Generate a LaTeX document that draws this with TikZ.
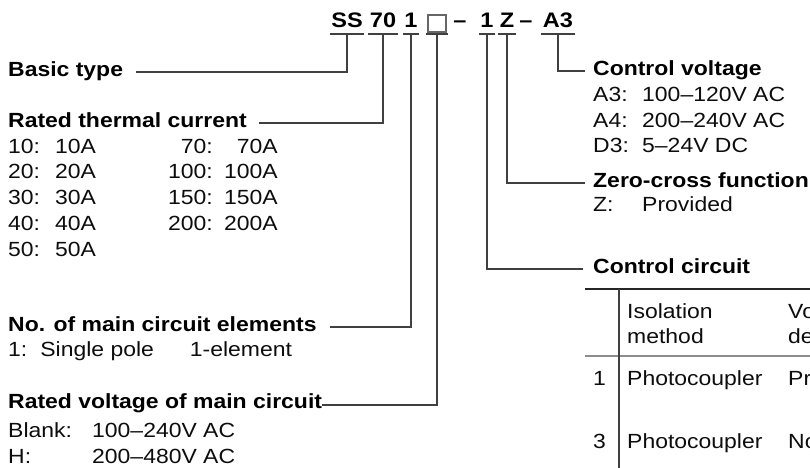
\documentclass[tikz,border=0pt]{standalone}
\usepackage{fontspec}
\setmainfont{Liberation Sans}[FakeStretch=1.12]
\begin{document}
\begin{tikzpicture}%
	[x={(1bp,0bp)},
	y={(0bp,-1bp)},
	lead/.style={color=black!75, line width=1.7bp},
	toprule/.style={color=black!85, line width=2.6bp},
	midrule/.style={color=black!45, line width=1.2bp},
	code/.style={font=\fontsize{21bp}{25bp}\selectfont\bfseries, anchor=base, inner xsep=1.5bp, inner ysep=0pt, text height=15bp, text depth=6bp},
	title/.style={font=\fontsize{20.5bp}{25.75bp}\selectfont\bfseries, anchor=base west, inner sep=0pt, text height=15bp, text depth=5bp},
	item/.style={font=\fontsize{20.5bp}{25.75bp}\selectfont, anchor=base west, inner sep=0pt, text=black!95},
	ritem/.style={item, anchor=base east}]
%
\useasboundingbox (0,0) rectangle (810,468);
\clip (0,0) rectangle (810,468);
%%
%% The type code
%%
\node[code] (ss) at (347,28) {SS};
\node[code] (cur) at (383,28) {70};
\node[code] (elem) at (411,28) {1};
\node[draw=black!60, line width=1.1bp, minimum width=18bp, minimum height=17bp, inner sep=0pt, outer sep=2bp] (volt) at (437,23.5) {};
\node[code] (d1) at (460,28) {--};
\node[code] (ctrl) at (487,28) {1};
\node[code] (zc) at (507,28) {Z};
\node[code] (d2) at (526,28) {--};
\node[code] (cv) at (558,28) {A3};
\foreach \c in {ss,cur,elem,volt,ctrl,zc,cv}
	\draw[lead] (\c.south west) -- (\c.south east);
%%
%% Titles
%%
\node[title] (basic) at (8,77) {Basic type};
\node[title] (thermal) at (8,128) {Rated thermal current};
\node[title] (elements) at (8,332) {No. of main circuit elements};
\node[title] (voltage) at (8,408) {Rated voltage of main circuit};
\node[title] (cvolt) at (593,76) {Control voltage};
\node[title] (zcross) at (593,188) {Zero-cross function};
\node[title] (circuit) at (593,274) {Control circuit};
%%
%% Leads
%%
\draw[lead] (ss.south) |- ([xshift=13bp]basic.east);
\draw[lead] (cur.south) |- ([xshift=12bp]thermal.east);
\draw[lead] (elem.south) |- ([xshift=13bp]elements.east);
\draw[lead] (volt.south) |- ([yshift=-2bp]voltage.east);
\draw[lead] (cv.south) |- ([xshift=-8bp]cvolt.west);
\draw[lead] (zc.south) |- ([xshift=-8bp]zcross.west);
\draw[lead] (ctrl.south) |- ([xshift=-10bp]circuit.west);
%%
%% Rated thermal current
%%
\foreach \k [count=\i] in {10,20,30,40,50} {
	\node[item] (tk\i) at (8,{127.3+25.75*\i}) {\k:};
	\node[item] (tv\i) at (55,{127.3+25.75*\i}) {\k A};
}
\foreach \k [count=\i] in {70,100,150,200} {
	\node[ritem] (rk\i) at (213,{127.3+25.75*\i}) {\k:};
	\node[ritem] (rv\i) at (278,{127.3+25.75*\i}) {\k A};
}
%%
%% Main circuit
%%
\node[item] (el1) at (8,357) {1:\hspace{13bp}Single pole\hspace{36bp}1-element};
\node[item] (vk1) at (8,437) {Blank:};
\node[item] (vv1) at (92,437) {100--240V AC};
\node[item] (vk2) at (8,463) {H:};
\node[item] (vv2) at (92,463) {200--480V AC};
%%
%% Control voltage, zero-cross
%%
\foreach \k/\v [count=\i] in {A3/100--120V AC,A4/200--240V AC,D3/5--24V DC} {
	\node[item] (ck\i) at (593,{76.5+25.5*\i}) {\k:};
	\node[item] (cw\i) at (642,{76.5+25.5*\i}) {\v};
}
\node[item] (zk) at (593,212) {Z:};
\node[item] (zv) at (642,212) {Provided};
%%
%% Control circuit table
%%
\draw[toprule] (585,289) -- (810,289);
\draw[midrule] (585,356) -- (810,356);
\draw[lead] (619,289) -- (619,468);
\node[item] (h1) at (627,319) {Isolation};
\node[item] (h2) at (627,344) {method};
\node[item] (h3) at (788,319) {Vo};
\node[item] (h4) at (788,344) {de};
\node[item] (n1) at (593,386) {1};
\node[item] (p1) at (627,386) {Photocoupler};
\node[item] (q1) at (788,386) {Pr};
\node[item] (n3) at (593,448) {3};
\node[item] (p3) at (627,448) {Photocoupler};
\node[item] (q3) at (788,448) {No};
\end{tikzpicture}
\end{document}
